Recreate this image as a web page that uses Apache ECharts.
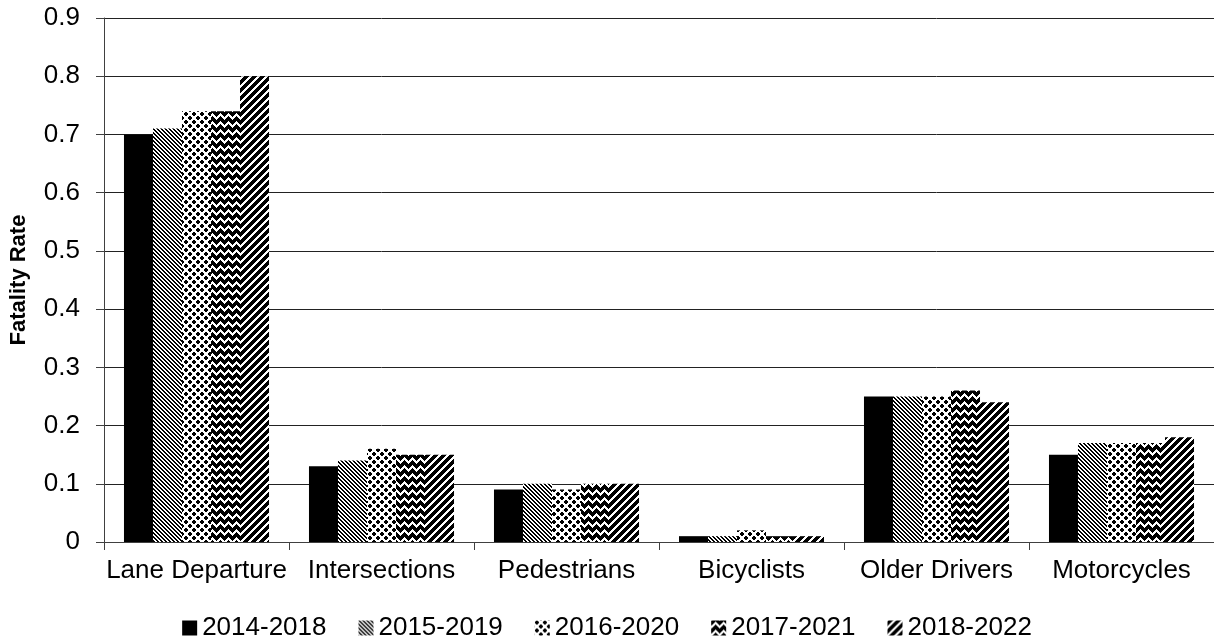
<!DOCTYPE html>
<html>
<head>
<meta charset="utf-8">
<script src="https://cdn.jsdelivr.net/npm/echarts@6/dist/echarts.min.js"></script>
<style>
html,body{margin:0;padding:0;background:#fff;}
#chart{width:1214px;height:641px;}
</style>
</head>
<body>
<div id="chart"></div>
<script>
var categories = ['Lane Departure', 'Intersections', 'Pedestrians', 'Bicyclists', 'Older Drivers', 'Motorcycles'];
var seriesNames = ['2014-2018', '2015-2019', '2016-2020', '2017-2021', '2018-2022'];
var s2014_2018 = [0.70, 0.13, 0.09, 0.01, 0.25, 0.15];
var s2015_2019 = [0.71, 0.14, 0.10, 0.01, 0.25, 0.17];
var s2016_2020 = [0.74, 0.16, 0.09, 0.02, 0.25, 0.17];
var s2017_2021 = [0.74, 0.15, 0.10, 0.01, 0.26, 0.17];
var s2018_2022 = [0.80, 0.15, 0.10, 0.01, 0.24, 0.18];
var yTicks = ['0', '0.1', '0.2', '0.3', '0.4', '0.5', '0.6', '0.7', '0.8', '0.9'];

function makeTile(w, h, fn) {
  var c = document.createElement('canvas');
  c.width = w; c.height = h;
  var ctx = c.getContext('2d');
  ctx.fillStyle = '#fff';
  ctx.fillRect(0, 0, w, h);
  ctx.fillStyle = '#000';
  for (var y = 0; y < h; y++) {
    for (var x = 0; x < w; x++) {
      if (fn(x, y)) ctx.fillRect(x, y, 1, 1);
    }
  }
  return { image: c, repeat: 'repeat' };
}

var fills = [
  '#000000',
  makeTile(4, 4, function (x, y) { return ((x - y) % 4 + 4) % 4 < 2; }),
  makeTile(8, 8, function (x, y) {
    var cx = Math.floor(x / 4), cy = Math.floor(y / 4);
    var lx = x % 4, ly = y % 4;
    if ((cx + cy) % 2 === 0) {
      if ((lx === 0 || lx === 3) && (ly === 0 || ly === 3)) return false;
      return true;
    }
    return false;
  }),
  makeTile(8, 8, function (x, y) {
    var m = x % 8;
    var t = m < 4 ? m : 8 - m;
    return ((y + t) % 8) < 5;
  }),
  makeTile(8, 8, function (x, y) { return ((x + y) % 8) < 5; })
];

var seriesData = [s2014_2018, s2015_2019, s2016_2020, s2017_2021, s2018_2022];

var chart = echarts.init(document.getElementById('chart'));
var fontFam = "'Liberation Sans', Arial, sans-serif";
chart.setOption({
  animation: false,
  backgroundColor: '#fff',
  textStyle: { fontFamily: fontFam },
  grid: { left: 104, right: 0, top: 18, bottom: 99, containLabel: false, outerBoundsMode: 'none' },
  legend: {
    data: seriesNames,
    top: 610,
    left: 'center',
    icon: 'rect',
    itemWidth: 15,
    itemHeight: 15,
    itemGap: 32,
    textStyle: { fontSize: 26, color: '#000', fontFamily: fontFam }
  },
  xAxis: {
    type: 'category',
    data: categories,
    axisLine: { lineStyle: { color: '#404040', width: 1 } },
    axisTick: { show: true, length: 8, lineStyle: { color: '#404040' } },
    axisLabel: { interval: 0, fontSize: 26, color: '#000', margin: 16, fontFamily: fontFam }
  },
  yAxis: {
    type: 'value',
    min: 0,
    max: 0.9,
    interval: 0.1,
    name: 'Fatality Rate',
    nameLocation: 'middle',
    nameGap: 74,
    nameTextStyle: { fontSize: 22, fontWeight: 'bold', color: '#000', fontFamily: fontFam },
    axisLine: { show: true, lineStyle: { color: '#404040', width: 1 } },
    axisTick: { show: true, length: 8, lineStyle: { color: '#404040' } },
    axisLabel: {
      fontSize: 26, color: '#000', margin: 24, fontFamily: fontFam,
      formatter: function (v) { return yTicks[Math.round(v * 10)]; }
    },
    splitLine: { show: true, lineStyle: { color: '#222', width: 1 } }
  },
  series: seriesNames.map(function (n, i) {
    return {
      name: n,
      type: 'bar',
      data: seriesData[i],
      barGap: '0%',
      barCategoryGap: '21.6%',
      itemStyle: { color: fills[i] }
    };
  })
});
</script>
</body>
</html>
